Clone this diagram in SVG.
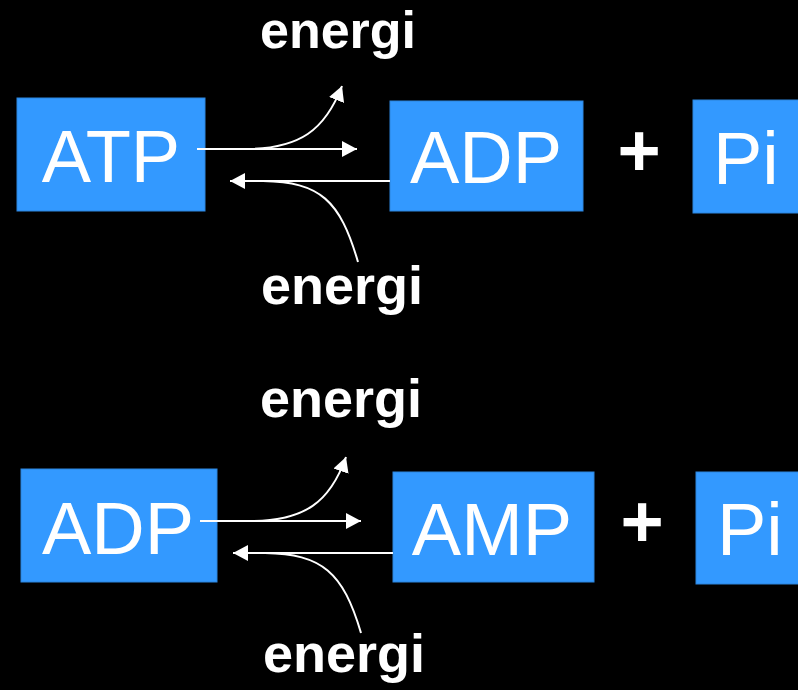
<svg xmlns="http://www.w3.org/2000/svg" width="798" height="690" viewBox="0 0 798 690">
<style>
.box{fill:#3399ff;stroke:#2d85de;stroke-width:1}
.lbl{font-family:"Liberation Sans",Arial,sans-serif;font-size:74px;fill:#fff;text-anchor:middle}
.en{font-family:"Liberation Sans",Arial,sans-serif;font-size:54px;font-weight:bold;fill:#fff;text-anchor:middle}
.plus{font-family:"Liberation Sans",Arial,sans-serif;font-size:74px;font-weight:bold;fill:#fff;text-anchor:middle}
.ar{fill:none;stroke:#fff;stroke-width:2;marker-end:url(#ah)}
</style>
<defs>
<marker id="ah" markerUnits="userSpaceOnUse" markerWidth="16" markerHeight="18" refX="15" refY="8" orient="auto" viewBox="0 0 16 16">
<path d="M0,0 L15,8 L0,16 z" fill="#fff"/>
</marker>
</defs>
<rect width="798" height="690" fill="#000"/>
<g id="atp1"><rect class="box" x="17" y="98" width="188" height="113"/><text class="lbl" x="111" y="182">ATP</text></g>
<g id="adp1"><rect class="box" x="390" y="101" width="193" height="110"/><text class="lbl" x="486" y="183">ADP</text></g>
<g id="plus1"><text class="plus" x="639" y="176">+</text></g>
<g id="pi1"><rect class="box" x="693" y="100" width="110" height="113"/><text class="lbl" x="713" y="184" style="text-anchor:start">Pi</text></g>
<g id="energi1"><text class="en" x="338" y="48" style="font-size:52px">energi</text></g>
<g id="energi2"><text class="en" x="342" y="304">energi</text></g>
<g id="adp2"><rect class="box" x="21" y="469" width="196" height="113"/><text class="lbl" x="118" y="554">ADP</text></g>
<g id="amp2"><rect class="box" x="393" y="472" width="201" height="110"/><text class="lbl" x="492" y="555">AMP</text></g>
<g id="plus2"><text class="plus" x="642" y="547">+</text></g>
<g id="pi2"><rect class="box" x="696" y="472" width="110" height="112"/><text class="lbl" x="717" y="555" style="text-anchor:start">Pi</text></g>
<g id="energi3"><text class="en" x="341" y="417">energi</text></g>
<g id="energi4"><text class="en" x="344" y="672">energi</text></g>
<g id="connectors">
<path class="ar" d="M197,149 L357,149"/>
<path class="ar" d="M245,149 C300,149 325,130 342,86"/>
<path class="ar" d="M390,181 L230,181"/>
<path fill="none" stroke="#fff" stroke-width="2" d="M263,181 C320,182 340,200 358,262"/>
<path class="ar" d="M200,521 L361,521"/>
<path class="ar" d="M250,521 C305,521 330,502 346,457"/>
<path class="ar" d="M393,553 L233,553"/>
<path fill="none" stroke="#fff" stroke-width="2" d="M265,553 C322,554 343,572 361,633"/>
</g>
</svg>
